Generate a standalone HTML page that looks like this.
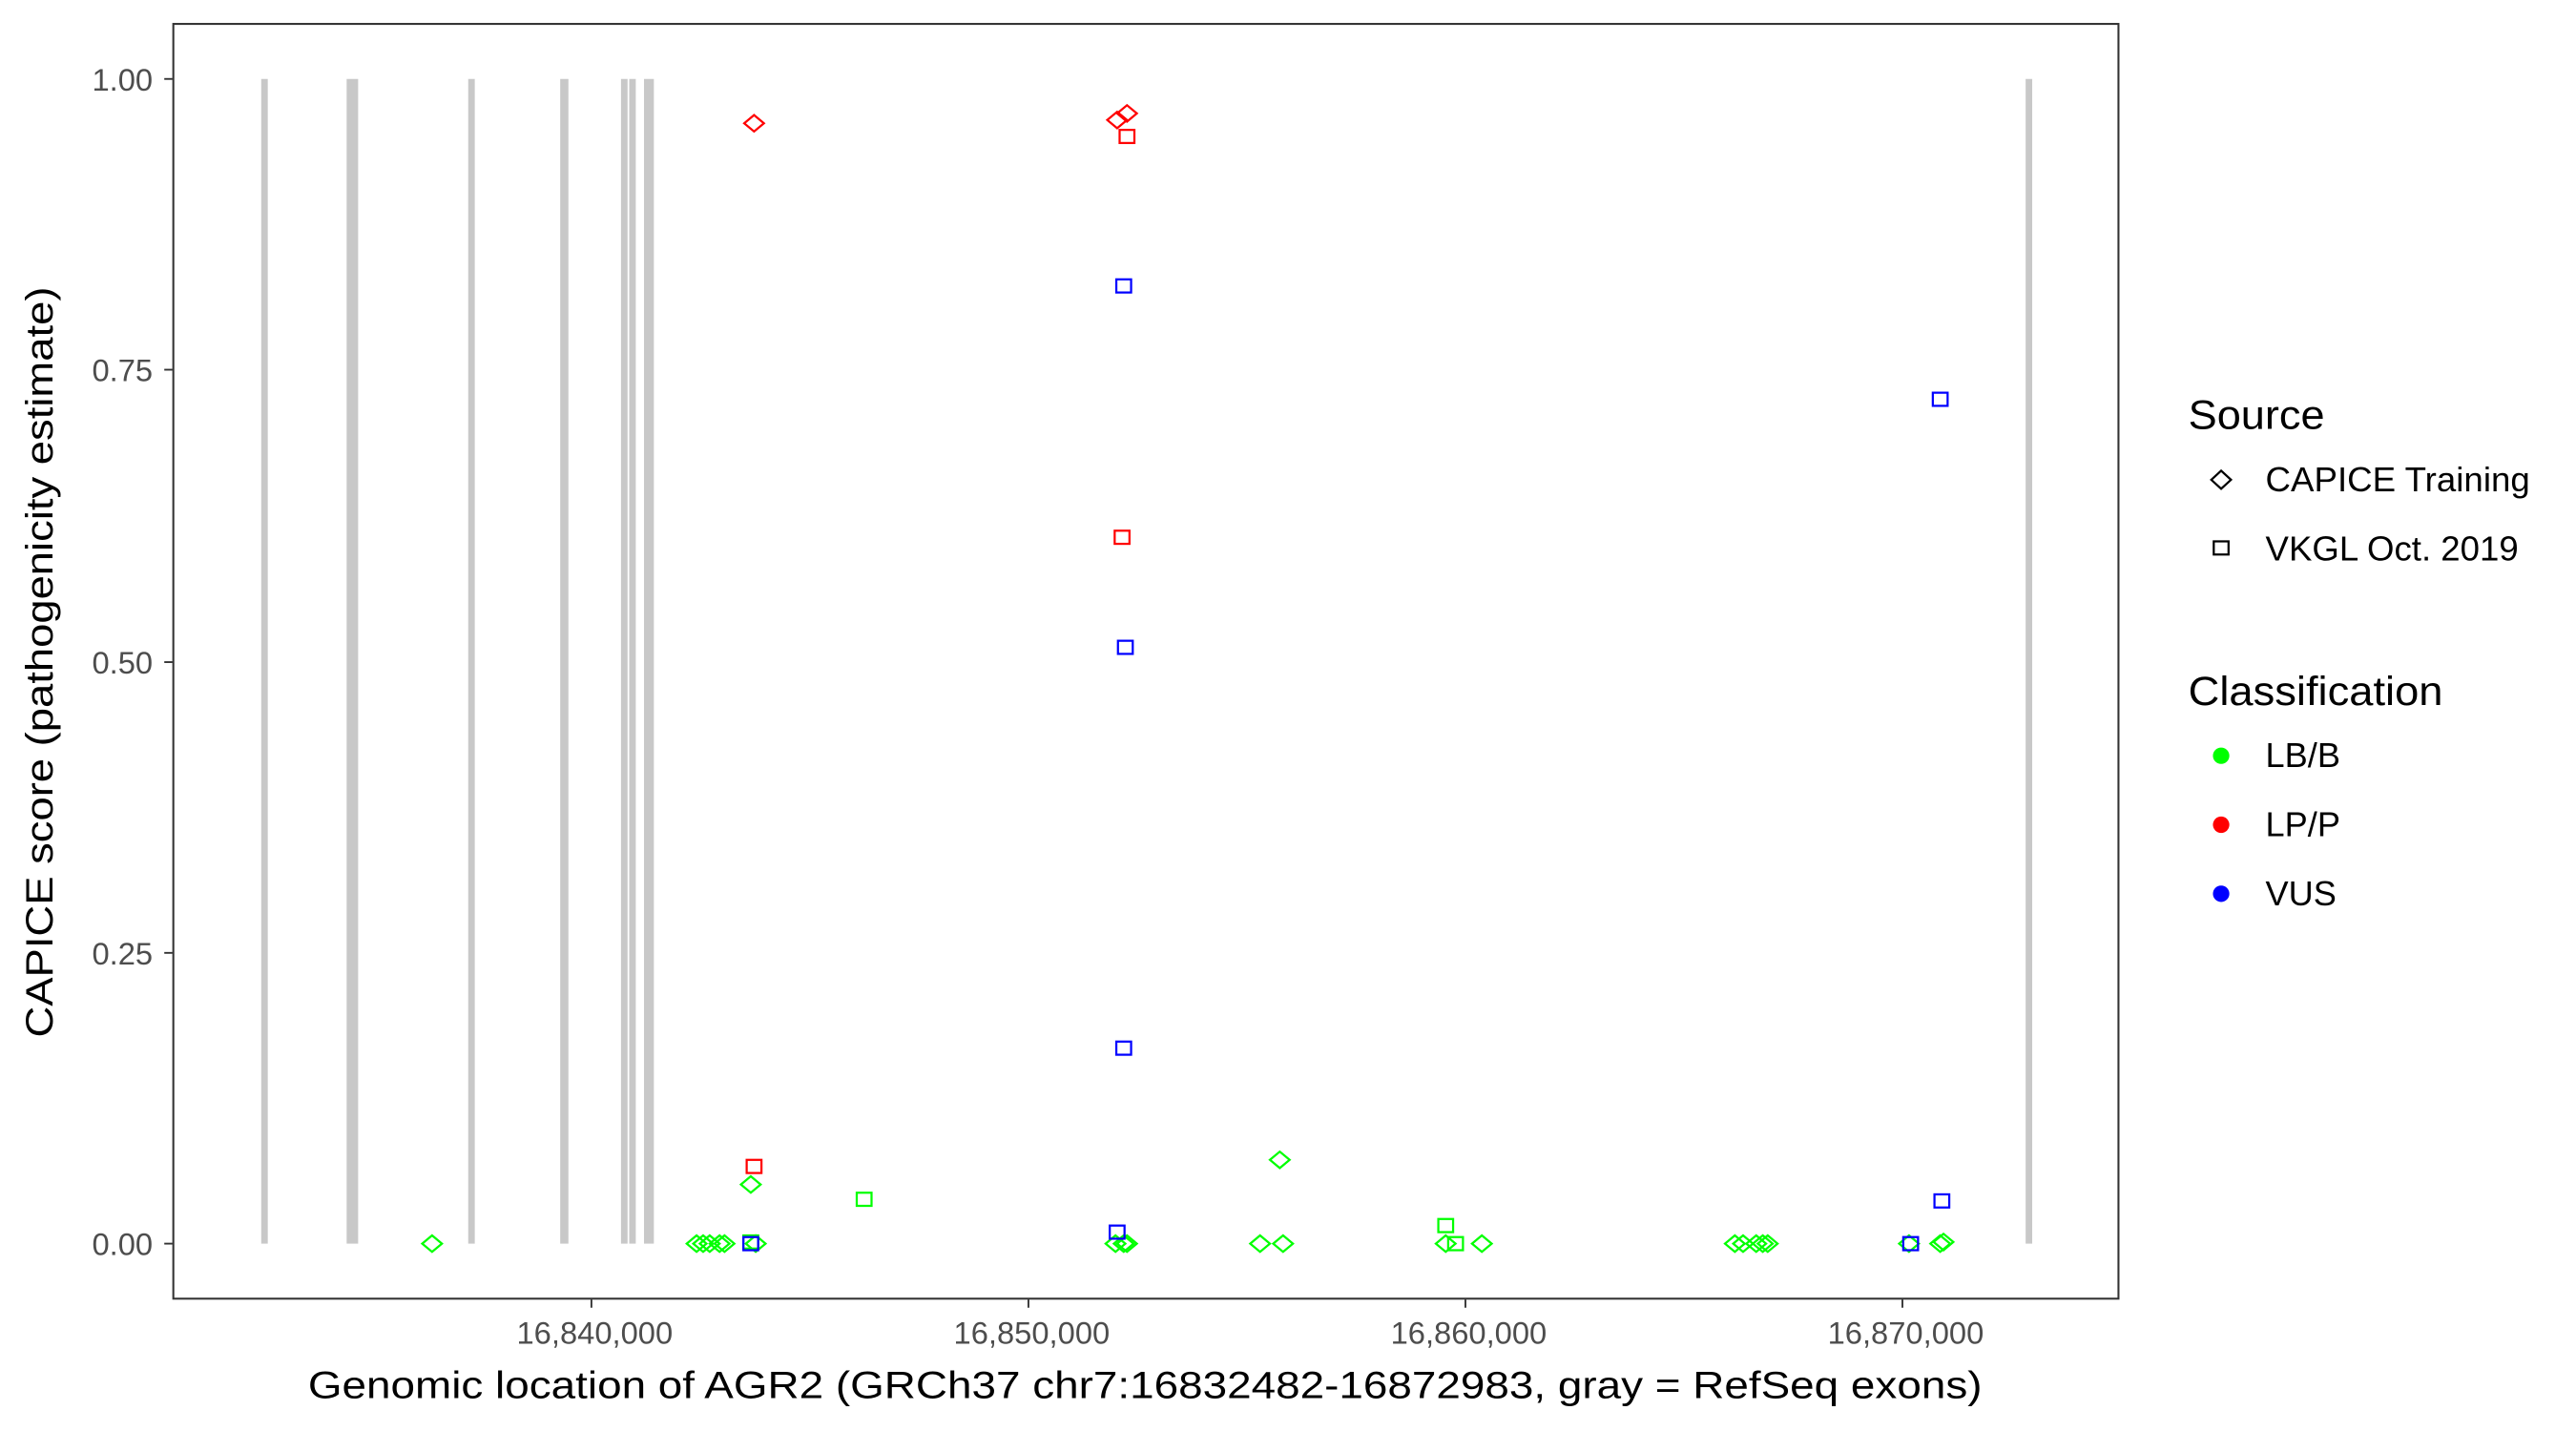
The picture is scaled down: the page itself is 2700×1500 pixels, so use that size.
<!DOCTYPE html>
<html><head><meta charset="utf-8"><style>html,body{margin:0;padding:0;background:#fff}svg{display:block}</style></head>
<body>
<svg width="2700" height="1500" viewBox="0 0 1568 871" xmlns="http://www.w3.org/2000/svg" font-family="Liberation Sans, Arial, sans-serif">
<rect width="1568" height="871" fill="#fff"/>
<g fill="#c8c8c8">
<rect x="159" y="48" width="4" height="709"/>
<rect x="211" y="48" width="7" height="709"/>
<rect x="285" y="48" width="4" height="709"/>
<rect x="341" y="48" width="5" height="709"/>
<rect x="378" y="48" width="4" height="709"/>
<rect x="383" y="48" width="4" height="709"/>
<rect x="392" y="48" width="6" height="709"/>
<rect x="1233" y="48" width="4" height="709"/>
</g>
<defs>
<path id="d" d="M-6,0 L0,-5 L6,0 L0,5 Z" fill="none" stroke-width="1.3"/>
<rect id="s" x="-4.5" y="-4" width="9" height="8" fill="none" stroke-width="1.3"/>
</defs>
<g stroke="#00ff00">
<use href="#d" x="263" y="757"/><use href="#d" x="424" y="757"/><use href="#d" x="428" y="757"/><use href="#d" x="432" y="757"/><use href="#d" x="438" y="757"/><use href="#d" x="441" y="757"/><use href="#d" x="460" y="757"/><use href="#d" x="679" y="757"/><use href="#d" x="684" y="757"/><use href="#d" x="686" y="757"/><use href="#d" x="767" y="757"/><use href="#d" x="781" y="757"/><use href="#d" x="880" y="757"/><use href="#d" x="902" y="757"/><use href="#d" x="1056" y="757"/><use href="#d" x="1061" y="757"/><use href="#d" x="1069" y="757"/><use href="#d" x="1073" y="757"/><use href="#d" x="1076" y="757"/><use href="#d" x="1181" y="757"/><use href="#d" x="1183" y="756"/><use href="#d" x="1162" y="757"/>
<use href="#d" x="457" y="721"/><use href="#d" x="779" y="706"/>
<use href="#s" x="526" y="730"/><use href="#s" x="880" y="746"/><use href="#s" x="886" y="757"/><use href="#s" x="457" y="756"/>
</g>
<g stroke="#ff0000">
<use href="#d" x="459" y="75"/><use href="#d" x="680" y="73"/><use href="#d" x="686" y="69"/>
<use href="#s" x="686" y="83"/><use href="#s" x="683" y="327"/><use href="#s" x="459" y="710"/>
</g>
<g stroke="#0000ff">
<use href="#s" x="684" y="174"/><use href="#s" x="685" y="394"/><use href="#s" x="684" y="638"/><use href="#s" x="1181" y="243"/><use href="#s" x="680" y="750"/><use href="#s" x="457" y="757"/><use href="#s" x="1182" y="731"/><use href="#s" x="1163" y="757"/>
</g>
<rect x="105.5" y="14.5" width="1184" height="776" fill="none" stroke="#333" stroke-width="1.2"/>
<g stroke="#333" stroke-width="1.1">
<line x1="100" y1="48" x2="105" y2="48"/><line x1="100" y1="225" x2="105" y2="225"/><line x1="100" y1="403" x2="105" y2="403"/><line x1="100" y1="580" x2="105" y2="580"/><line x1="100" y1="757" x2="105" y2="757"/>
<line x1="360" y1="791" x2="360" y2="796"/><line x1="626" y1="791" x2="626" y2="796"/><line x1="892" y1="791" x2="892" y2="796"/><line x1="1158" y1="791" x2="1158" y2="796"/>
</g>
<g fill="#4d4d4d" font-size="19" text-anchor="end">
<text x="93" y="55">1.00</text><text x="93" y="232">0.75</text><text x="93" y="410">0.50</text><text x="93" y="587">0.25</text><text x="93" y="764">0.00</text>
</g>
<g fill="#4d4d4d" font-size="19" text-anchor="middle">
<text x="362" y="818">16,840,000</text><text x="628" y="818">16,850,000</text><text x="894" y="818">16,860,000</text><text x="1160" y="818">16,870,000</text>
</g>
<text x="697" y="851" font-size="23" text-anchor="middle" textLength="1019" lengthAdjust="spacingAndGlyphs">Genomic location of AGR2 (GRCh37 chr7:16832482-16872983, gray = RefSeq exons)</text>
<text transform="translate(32,403) rotate(-90)" font-size="23" text-anchor="middle" textLength="457" lengthAdjust="spacingAndGlyphs">CAPICE score (pathogenicity estimate)</text>
<text x="1332" y="261" font-size="25" textLength="83" lengthAdjust="spacingAndGlyphs">Source</text>
<path d="M1346,292 L1352,286.5 L1358,292 L1352,297.5 Z" fill="none" stroke="#000" stroke-width="1.3"/>
<rect x="1347.5" y="329.5" width="9" height="8" fill="none" stroke="#000" stroke-width="1.3"/>
<text x="1379" y="299" font-size="21" textLength="161" lengthAdjust="spacingAndGlyphs">CAPICE Training</text>
<text x="1379" y="341" font-size="21" textLength="154" lengthAdjust="spacingAndGlyphs">VKGL Oct. 2019</text>
<text x="1332" y="429" font-size="25" textLength="155" lengthAdjust="spacingAndGlyphs">Classification</text>
<circle cx="1352" cy="460" r="5" fill="#00ff00"/><circle cx="1352" cy="502" r="5" fill="#ff0000"/><circle cx="1352" cy="544" r="5" fill="#0000ff"/>
<text x="1379" y="467" font-size="21">LB/B</text><text x="1379" y="509" font-size="21">LP/P</text><text x="1379" y="551" font-size="21">VUS</text>
</svg>
</body></html>
